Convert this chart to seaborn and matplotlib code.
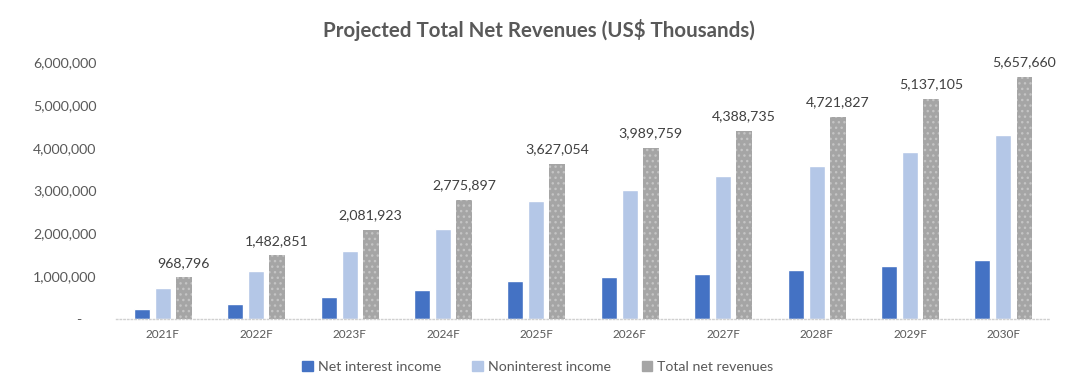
import numpy as np
import pandas as pd
import matplotlib.pyplot as plt
import matplotlib.ticker as mticker
import seaborn as sns

### data
years = ['2021F', '2022F', '2023F', '2024F', '2025F', '2026F', '2027F', '2028F', '2029F', '2030F']
net_interest = [240000, 350000, 500000, 670000, 880000, 970000, 1060000, 1140000, 1240000, 1370000]
noninterest = [730000, 1130000, 1580000, 2100000, 2750000, 3020000, 3330000, 3580000, 3900000, 4290000]
total_net = [968796, 1482851, 2081923, 2775897, 3627054, 3989759, 4388735, 4721827, 5137105, 5657660]

series_names = ['Net interest income', 'Noninterest income', 'Total net revenues']
colors = ['#4472C4', '#B4C7E7', '#A5A5A5']

df = pd.DataFrame({'Year': years, series_names[0]: net_interest,
                   series_names[1]: noninterest, series_names[2]: total_net})
long_df = df.melt(id_vars='Year', var_name='Series', value_name='Value')

sns.set_style("white")
plt.rcParams['font.family'] = ['Lato', 'DejaVu Sans']
text_color = '#595959'

fig = plt.figure(figsize=(10.8, 3.81), dpi=100)
ax = fig.add_axes([0.1074, 0.163, 0.865, 0.674])

sns.barplot(data=long_df, x='Year', y='Value', hue='Series', hue_order=series_names,
            palette=colors, width=0.675, gap=0.24, saturation=1, ax=ax, legend=False)

### dotted fill on the total bars
for patch in ax.containers[2]:
    patch.set_hatch('...')
    patch.set_edgecolor('#C4C4C4')
    patch.set_linewidth(0)

### value labels on total bars
for patch, val in zip(ax.containers[2], total_net):
    ax.text(patch.get_x() + patch.get_width() / 2, val + 200000, f'{val:,}',
            ha='center', va='bottom', fontsize=10.2, color='#404040')

ax.set_ylim(0, 6000000)
ax.set_xlim(-0.5, 9.5)
ax.yaxis.set_major_locator(mticker.MultipleLocator(1000000))
ax.yaxis.set_major_formatter(mticker.FuncFormatter(lambda v, p: '-    ' if v == 0 else f'{int(v):,}'))
ax.tick_params(axis='y', labelsize=10.2, labelcolor=text_color, length=0, pad=14)
ax.tick_params(axis='x', labelsize=8.5, labelcolor=text_color, length=0, pad=7)
ax.set_xlabel('')
ax.set_ylabel('')

for side in ['left', 'right', 'top']:
    ax.spines[side].set_visible(False)
ax.spines['bottom'].set_color('#D0D0D0')
ax.spines['bottom'].set_linestyle(':')
ax.spines['bottom'].set_linewidth(1)

### legend
handles = [plt.Rectangle((0, 0), 1, 1, color=c) for c in colors]
fig.legend(handles, series_names, loc='center', bbox_to_anchor=(0.498, 0.037), ncol=3,
           frameon=False, fontsize=10.2, handlelength=0.75, handleheight=0.75,
           handletextpad=0.35, columnspacing=2.2, labelcolor=text_color)

fig.suptitle('Projected Total Net Revenues (US$ Thousands)', x=0.499, y=0.95,
             fontsize=14.8, fontweight='bold', color=text_color)

plt.savefig('out.png', dpi=100)
